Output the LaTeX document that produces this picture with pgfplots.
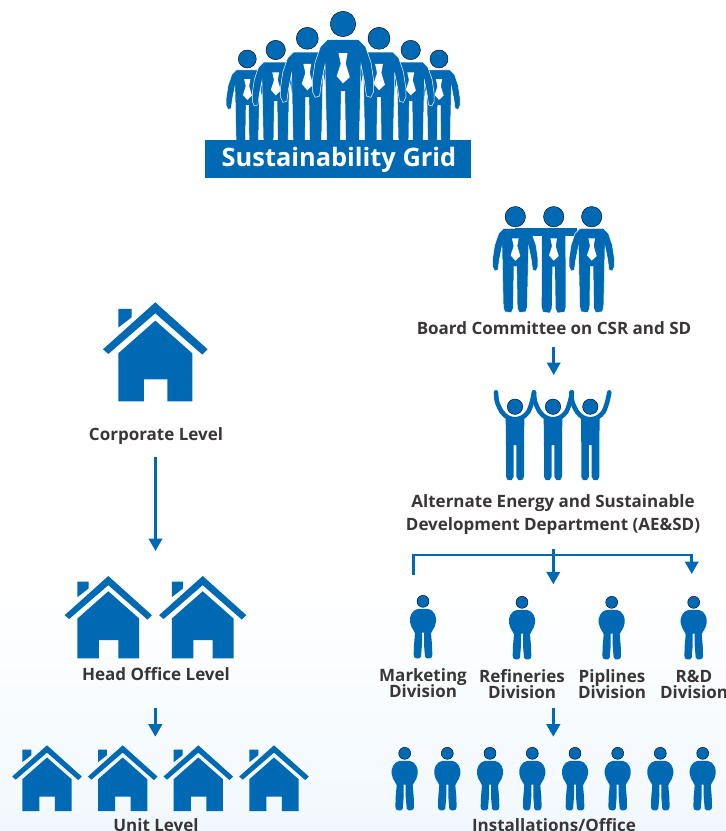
\documentclass[border=0pt]{standalone}
\usepackage{fontspec}
\setmainfont{Open Sans}
\usepackage{pgfplots}
\usepackage{pgfplotstable}
\pgfplotsset{compat=1.18}
\usetikzlibrary{arrows.meta}
\definecolor{gridblue}{HTML}{0069B4}
\definecolor{labeltext}{HTML}{3A3637}
\definecolor{paleblue}{HTML}{F1F8FD}

% icon outlines, in units of 1/3 px, relative to roof apex or head centre
\pgfplotstableread[row sep=\\]{x y\\ 0 0\\ 157 141\\ 141 157\\ 0 33\\ -141 155\\ -157 141\\}\roofpts
\pgfplotstableread[row sep=\\]{x y\\ -111 20\\ -71 20\\ -71 45\\ -111 76\\}\chimneypts
\pgfplotstableread[row sep=\\]{x y\\ 0 55\\ 111 153\\ 111 297\\ 36 297\\ 36 231\\ -34 231\\ -34 297\\ -111 297\\ -111 153\\}\housepts
\pgfplotstableread[row sep=\\]{x y\\ -16 23\\ 16 23\\ 27 28\\ 35 38\\ 39 50\\ 39 62\\ 35 76\\ 28 88\\ 24 96\\ 27 130\\ 28 160\\ 26 168\\ 20 171\\ 11 171\\ 6 166\\ 3 130\\ 3 94\\ -3 94\\ -3 130\\ -6 166\\ -11 171\\ -20 171\\ -26 168\\ -28 160\\ -27 130\\ -24 96\\ -28 88\\ -35 76\\ -39 62\\ -39 50\\ -35 38\\ -27 28\\}\smallpts
\pgfplotstableread[row sep=\\]{x y\\ -28 35\\ 28 35\\ 27 120\\ 27 210\\ 22 220\\ 10 220\\ 4 210\\ 4 115\\ -4 115\\ -4 210\\ -10 220\\ -22 220\\ -27 210\\ -27 120\\}\cheerbody
\pgfplotstableread[row sep=\\]{x y\\ -57 -43\\ -54 -15\\ -40 15\\ -22 32\\ 0 38\\ 22 32\\ 40 15\\ 51 -15\\ 57 -43\\}\cheerarms
\pgfplotstableread[row sep=\\]{x y\\ -35 35\\ 35 35\\ 50 50\\ 62 85\\ 68 125\\ 68 150\\ 62 163\\ 52 160\\ 48 130\\ 40 90\\ 36 270\\ 32 285\\ 12 288\\ 6 275\\ 4 150\\ -4 150\\ -6 275\\ -12 288\\ -32 285\\ -36 270\\ -40 90\\ -48 130\\ -52 160\\ -62 163\\ -68 150\\ -68 125\\ -62 85\\ -50 50\\}\manpts
\pgfplotstableread[row sep=\\]{x y\\ -35 35\\ 35 35\\ 36 270\\ 32 285\\ 12 288\\ 6 275\\ 4 150\\ -4 150\\ -6 275\\ -12 288\\ -32 285\\ -36 270\\}\torsopts
\pgfplotstableread[row sep=\\]{x y\\ -10 65\\ 10 65\\ 6 88\\ 15 118\\ 0 132\\ -14 116\\ -5 88\\}\tiepts

% #1 table, #2 #3 position, #4 scale, #5 path options
\newcommand{\blob}[5]{\addplot[#5] table[x expr=\thisrow{x}*#4/3+#2, y expr=\thisrow{y}*#4/3+#3] {#1} -- cycle;}
\newcommand{\head}[3]{\addplot[only marks, mark=*, mark size=#3bp, mark options={fill=gridblue, draw=none}] coordinates {(#1,#2)};}
\newcommand{\house}[3]{%
  \blob{\roofpts}{#1}{#2}{#3}{fill=gridblue, draw=none}
  \blob{\chimneypts}{#1}{#2}{#3}{fill=gridblue, draw=none}
  \blob{\housepts}{#1}{#2}{#3}{fill=gridblue, draw=none}}
\newcommand{\smallman}[2]{%
  \head{#1}{#2}{6}
  \blob{\smallpts}{#1}{#2}{1}{fill=gridblue, draw=none}}
\newcommand{\cheerman}[2]{%
  \head{#1}{#2}{7.7}
  \blob{\cheerbody}{#1}{#2}{1}{fill=gridblue, draw=none}
  \addplot[gridblue, line width=4.6bp, line cap=round, smooth] table[x expr=\thisrow{x}/3+#1, y expr=\thisrow{y}/3+#2] {\cheerarms};}
% #1 #2 head, #3 scale, #4 head radius
\newcommand{\suitman}[4]{%
  \head{#1}{#2}{#4}
  \blob{\manpts}{#1}{#2}{#3}{fill=gridblue, draw=white, line width=0.5bp}
  \blob{\tiepts}{#1}{#2}{#3}{fill=white, draw=none}}
\newcommand{\flowarrow}[4]{\addplot[gridblue, line width=2.5bp, -{Triangle[width=13.5bp,length=12.5bp]}] coordinates {(#1,#2) (#3,#4)};}
\newcommand{\lab}[3]{\node[anchor=base, inner sep=0pt, yshift=-0.8bp, text=labeltext, font=\fontsize{17bp}{19bp}\selectfont\bfseries] at (axis cs:#1,#2) {#3};}

\begin{document}
\begin{tikzpicture}
\path[use as bounding box] (0,0) rectangle (726bp,831bp);
\clip (0,0) rectangle (726bp,831bp);
\begin{axis}[
  scale only axis, width=726bp, height=831bp,
  xmin=0, xmax=726, ymin=0, ymax=831,
  y dir=reverse, hide axis, clip=true,
]
% pale wash at the foot of the page
\addplot[draw=none, top color=white, bottom color=paleblue] coordinates {(0,590) (726,590) (726,831) (0,831)} -- cycle;

% top group
\suitman{247.3}{59}{0.93}{9}
\suitman{439}{59}{0.93}{9}
\suitman{275.7}{50}{1.03}{9.7}
\suitman{410.7}{50}{1.03}{9.7}
\suitman{307.3}{38.3}{1.18}{11}
\suitman{379}{38.3}{1.18}{11}
\suitman{343}{24}{1.35}{12.7}
\addplot[fill=gridblue, draw=none] coordinates {(205,140) (471,140) (471,177.7) (205,177.7)} -- cycle;
\node[anchor=base, inner sep=0pt, text=white, font=\fontsize{25.4bp}{28bp}\selectfont\bfseries] at (axis cs:339,166) {Sustainability Grid};

% houses
\house{155.3}{302.3}{1}
\house{108.3}{576}{0.833}
\house{202.7}{576}{0.833}
\house{47}{745.3}{0.665}
\house{122.7}{745.3}{0.665}
\house{198.3}{745.3}{0.665}
\house{274}{745.3}{0.665}

% board committee
\suitman{515.3}{216.7}{1}{10.2}
\blob{\torsopts}{553.7}{216.7}{1}{fill=gridblue, draw=none}
\blob{\tiepts}{553.7}{216.7}{1}{fill=white, draw=none}
\head{553.7}{216.7}{10.2}
\addplot[fill=gridblue, draw=none] coordinates {(515.3,228.3) (577,228.3) (577,236) (515.3,236)} -- cycle;
\suitman{591.7}{216.7}{1}{10.2}

% AE&SD
\cheerman{515}{406.7}
\cheerman{553}{406.7}
\cheerman{590.3}{406.7}

% divisions
\smallman{423}{601.3}
\smallman{522}{602.3}
\smallman{611.7}{602.3}
\smallman{693.7}{602.3}

% installations
\smallman{404.7}{753.3}
\smallman{447.3}{753.3}
\smallman{490}{753.3}
\smallman{532.3}{753.3}
\smallman{575}{753.3}
\smallman{617.7}{753.3}
\smallman{660.3}{753.3}
\smallman{702.7}{753.3}

% connectors
\flowarrow{155.5}{457}{155.5}{551}
\flowarrow{155.3}{708.3}{155.3}{736.7}
\flowarrow{553.7}{346.7}{553.7}{375}
\addplot[gridblue, line width=2.8bp] coordinates {(413.3,575) (413.3,555) (691.7,555) (691.7,565)};
\flowarrow{553.3}{549.3}{553.3}{584.3}
\flowarrow{691.7}{555}{691.7}{574}
\flowarrow{553.3}{708.3}{553.3}{736.7}

% labels
\lab{156}{439.5}{Corporate Level}
\lab{156}{680}{Head Office Level}
\lab{156}{831}{Unit Level}
\lab{554}{333.3}{Board Committee on CSR and SD}
\lab{553}{506.5}{Alternate Energy and Sustainable}
\lab{553}{529.5}{Development Department (AE\&SD)}
\lab{423}{680.7}{Marketing}
\lab{423}{696.7}{Division}
\lab{522}{681.7}{Refineries}
\lab{522}{697.7}{Division}
\lab{612}{681.7}{Piplines}
\lab{612}{697.7}{Division}
\lab{694}{681.7}{R\&D}
\lab{694}{697.7}{Division}
\lab{554}{831}{Installations/Office}
\end{axis}
\end{tikzpicture}
\end{document}
